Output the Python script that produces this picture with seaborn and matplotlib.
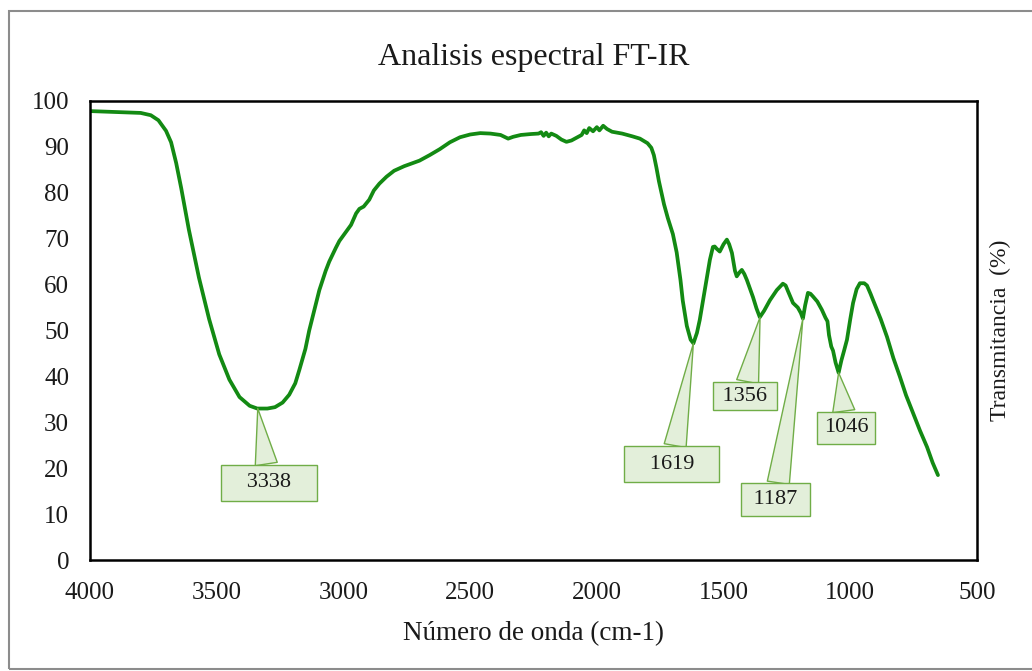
import matplotlib
matplotlib.use("Agg")
import matplotlib.pyplot as plt
import seaborn as sns
import pandas as pd
from matplotlib.patches import Rectangle

# ---- data ----
wavenumber = [4000, 3900, 3800, 3760, 3730, 3700, 3680, 3660, 3640, 3610, 3570, 3530, 3490, 3450,
              3410, 3370, 3340, 3300, 3270, 3240, 3214, 3190, 3174, 3150, 3135, 3110, 3095, 3070,
              3056, 3030, 3016, 2990, 2970, 2950, 2937, 2920, 2898, 2880, 2858, 2830, 2800, 2760,
              2700, 2660, 2620, 2580, 2540, 2500, 2460, 2420, 2380, 2350, 2330, 2300, 2260, 2230,
              2220, 2210, 2200, 2190, 2180, 2160, 2140, 2120, 2100, 2080, 2060, 2050, 2040, 2030,
              2015, 2000, 1990, 1975, 1960, 1940, 1900, 1860, 1830, 1800, 1785, 1775, 1765, 1755,
              1745, 1735, 1720, 1700, 1685, 1670, 1661, 1645, 1630, 1619, 1605, 1594, 1575, 1554,
              1542, 1535, 1527, 1515, 1500, 1487, 1478, 1467, 1455, 1448, 1438, 1428, 1418, 1408,
              1395, 1384, 1370, 1357, 1340, 1317, 1290, 1266, 1255, 1246, 1235, 1226, 1207, 1195,
              1187, 1178, 1167, 1157, 1147, 1130, 1112, 1098, 1090, 1084, 1075, 1068, 1058, 1046,
              1035, 1025, 1013, 1000, 989, 975, 962, 945, 934, 920, 910, 880, 855, 830, 804, 780,
              752, 725, 697, 675, 654]
transmittance = [97.8, 97.6, 97.4, 96.9, 95.8, 93.5, 91.0, 86.5, 81.0, 72.0, 61.5, 52.5, 44.8, 39.3,
                 35.5, 33.6, 33.0, 33.0, 33.3, 34.3, 36.0, 38.5, 41.4, 46.0, 50.0, 55.5, 58.8, 63.0,
                 65.0, 68.0, 69.5, 71.5, 73.0, 75.5, 76.5, 77.0, 78.5, 80.5, 82.0, 83.5, 84.8, 85.8,
                 87.0, 88.2, 89.5, 91.0, 92.1, 92.7, 93.0, 92.9, 92.6, 91.8, 92.2, 92.6, 92.8, 92.9,
                 93.2, 92.4, 93.1, 92.3, 92.9, 92.4, 91.6, 91.1, 91.4, 92.0, 92.6, 93.6, 93.0, 94.1,
                 93.4, 94.3, 93.6, 94.6, 93.9, 93.3, 92.9, 92.3, 91.8, 90.8, 89.8, 88.2, 85.5, 82.5,
                 80.0, 77.5, 74.5, 71.0, 67.0, 61.0, 56.5, 51.0, 48.0, 47.2, 49.5, 52.3, 58.5, 65.4,
                 68.2, 68.3, 67.8, 67.2, 68.8, 69.8, 68.8, 66.9, 63.0, 61.8, 62.6, 63.2, 62.3, 61.0,
                 59.0, 57.3, 54.8, 52.9, 54.3, 56.6, 58.8, 60.2, 59.8, 58.6, 57.2, 56.0, 55.0, 53.8,
                 52.6, 55.5, 58.2, 58.0, 57.4, 56.3, 54.5, 52.8, 52.0, 49.0, 46.5, 45.6, 43.0, 40.8,
                 43.5, 45.5, 48.0, 52.5, 56.0, 59.0, 60.3, 60.3, 59.8, 58.0, 56.6, 52.5, 48.6, 44.0,
                 39.9, 35.9, 32.0, 28.2, 24.6, 21.2, 18.5]

peak_labels = ["3338", "1619", "1356", "1187", "1046"]
peak_x = [3338, 1619, 1356, 1187, 1046]
peak_y = [33.0, 47.2, 52.9, 52.6, 40.8]
label_x = [3293, 1704, 1416, 1294, 1017]
label_y = [16.8, 20.9, 35.7, 13.1, 28.8]

x_ticks = [4000, 3500, 3000, 2500, 2000, 1500, 1000, 500]
y_ticks = [0, 10, 20, 30, 40, 50, 60, 70, 80, 90, 100]

title = "Analisis espectral FT-IR"
x_label = "Número de onda (cm-1)"
y_label = "Transmitancia  (%)"

# ---- style ----
sns.set_style("white")
plt.rcParams["font.family"] = ["Liberation Serif", "DejaVu Serif"]

line_color = "#138a13"
box_fc = "#e3efda"
box_ec = "#70ad47"
text_color = "#1a1a1a"

fig = plt.figure(figsize=(10.32, 6.71), dpi=100)
ax = fig.add_axes([0.0872, 0.1654, 0.8595, 0.6841])

df = pd.DataFrame({"w": wavenumber, "t": transmittance})
sns.lineplot(data=df, x="w", y="t", ax=ax, color=line_color, linewidth=2.7, sort=False)

ax.set_xlim(4000, 500)
ax.set_ylim(0, 100)
ax.set_xticks(x_ticks)
ax.set_yticks(y_ticks)
ax.set_xticklabels([str(v) for v in x_ticks])
ax.set_yticklabels([str(v) for v in y_ticks])
ax.tick_params(axis="both", length=0, labelsize=18, colors=text_color)
ax.tick_params(axis="y", pad=15)
ax.tick_params(axis="x", pad=16)

for s in ax.spines.values():
    s.set_color("black")
    s.set_linewidth(1.8)

ax.set_title(title, fontsize=23, pad=26, color=text_color)
ax.set_xlabel(x_label, fontsize=19.5, labelpad=12, color=text_color)
ax.yaxis.set_label_position("right")
ax.set_ylabel(y_label, fontsize=17, labelpad=9, color=text_color, rotation=90)

# ---- callouts ----
box_style = [("   ", 0.4), ("   ", 0.38), (" ", 0.2), (" ", 0.32), ("", 0.3)]
for lab, px, py, lx, ly, (sp, pad_) in zip(peak_labels, peak_x, peak_y, label_x, label_y, box_style):
    ax.annotate(sp + lab + sp, xy=(px, py), xytext=(lx, ly), textcoords="data",
                ha="center", va="center", fontsize=16, color=text_color,
                bbox=dict(boxstyle=f"square,pad={pad_}", fc=box_fc, ec=box_ec, lw=1.0),
                arrowprops=dict(arrowstyle="wedge,tail_width=1.0,shrink_factor=0.5",
                                fc=box_fc, ec=box_ec, lw=1.0, shrinkA=0, shrinkB=0))

# chart outer frame
fig.patches.append(Rectangle((9 / 1032, 2 / 671), 1030 / 1032, 658 / 671,
                             transform=fig.transFigure, fill=False,
                             ec="#8c8c8c", lw=1.5, zorder=0))

fig.savefig("out.png", dpi=100)
